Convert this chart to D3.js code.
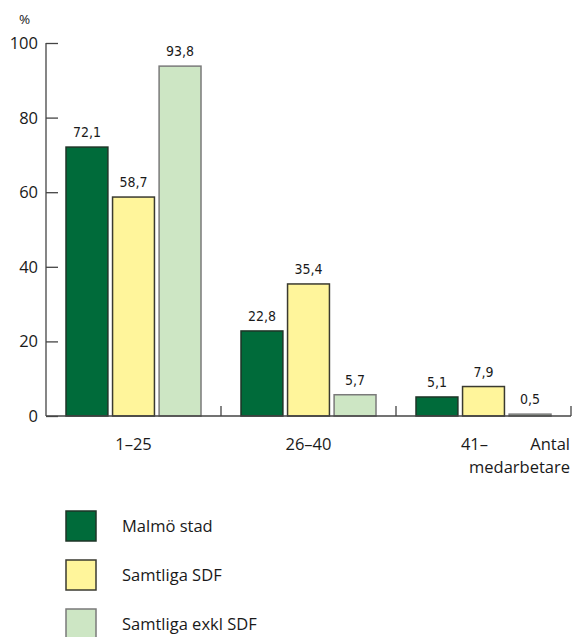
<!DOCTYPE html>
<html>
<head>
<meta charset="utf-8">
<script src="https://cdn.jsdelivr.net/npm/d3@7"></script>
<style>
  html, body { margin: 0; padding: 0; background: #fff; }
  svg { display: block; }
  .lab { font-family: "Open Sans", "Noto Sans", sans-serif; fill: #1a1a1a; }
  .val { font-family: "DejaVu Sans Condensed", "DejaVu Sans", sans-serif; font-stretch: condensed; fill: #1a1a1a; }
</style>
</head>
<body>
<svg id="chart" width="574" height="637"></svg>
<script>
// Share of workplaces by number of employees (%)
const groups = ["1–25", "26–40", "41–"];
const seriesNames = ["Malmö stad", "Samtliga SDF", "Samtliga exkl SDF"];
const malmoStad = [72.1, 22.8, 5.1];
const samtligaSDF = [58.7, 35.4, 7.9];
const samtligaExklSDF = [93.8, 5.7, 0.5];
const yTicks = [0, 20, 40, 60, 80, 100];

const seriesValues = [malmoStad, samtligaSDF, samtligaExklSDF];
const fills = ["#006b3a", "#fff59b", "#cde6c4"];
const strokes = ["#1e3527", "#3a3a30", "#7a7a7a"];

const svg = d3.select("#chart");

const x0 = d3.scaleBand().domain(groups).range([46, 571]).paddingInner(0).paddingOuter(0);
const x1 = d3.scaleBand().domain(seriesNames).range([20, 155]).paddingInner(0.1).paddingOuter(0);
const y = d3.scaleLinear().domain([0, 100]).range([416, 43]);

const fmt = v => String(v.toFixed(1)).replace(".", ",");

// y axis: line with inward ticks
const yAxis = svg.append("g").attr("transform", "translate(46,0)")
  .call(d3.axisRight(y).tickValues(yTicks).tickSize(12).tickFormat(""));
yAxis.select(".domain").attr("d", `M0,${y(100)}V${y(0)}`).attr("stroke", "#444").attr("stroke-width", 1.3);
yAxis.selectAll(".tick line").attr("stroke", "#444").attr("stroke-width", 1.3);

svg.append("g").selectAll("text").data(yTicks).join("text")
  .attr("class", "lab")
  .attr("x", 38).attr("y", d => y(d)).attr("dy", "0.36em")
  .attr("text-anchor", "end").attr("font-size", 16.5)
  .text(d => d);

svg.append("text").attr("class", "lab").attr("x", 19).attr("y", 24)
  .attr("font-size", 13.5).text("%");

// bars
const g = svg.append("g");
groups.forEach((grp, gi) => {
  seriesNames.forEach((s, si) => {
    const v = seriesValues[si][gi];
    const bx = x0(grp) + x1(s);
    g.append("rect")
      .attr("x", bx).attr("y", y(v))
      .attr("width", x1.bandwidth()).attr("height", y(0) - y(v))
      .attr("fill", fills[si]).attr("stroke", strokes[si]).attr("stroke-width", 1.5);
    g.append("text").attr("class", "val")
      .attr("x", bx + x1.bandwidth() / 2).attr("y", y(v) - 10)
      .attr("text-anchor", "middle").attr("font-size", 14)
      .text(fmt(v));
  });
});

// x baseline and group separators
svg.append("line").attr("x1", 46).attr("x2", 571).attr("y1", y(0)).attr("y2", y(0))
  .attr("stroke", "#444").attr("stroke-width", 1.3);
svg.append("g").selectAll("line").data(groups).join("line")
  .attr("x1", d => x0(d) + x0.bandwidth()).attr("x2", d => x0(d) + x0.bandwidth())
  .attr("y1", y(0) - 10).attr("y2", y(0))
  .attr("stroke", "#444").attr("stroke-width", 1.3);

// category labels
svg.append("g").selectAll("text").data(groups).join("text")
  .attr("class", "lab")
  .attr("x", (d, i) => x0(d) + x0.bandwidth() / 2 + (i === 2 ? -9 : 0))
  .attr("y", 450).attr("text-anchor", "middle").attr("font-size", 16.5)
  .text(d => d);

svg.append("text").attr("class", "lab").attr("x", 570).attr("y", 450)
  .attr("text-anchor", "end").attr("font-size", 16.5).text("Antal");
svg.append("text").attr("class", "lab").attr("x", 570).attr("y", 473)
  .attr("text-anchor", "end").attr("font-size", 16.5).text("medarbetare");

// legend
const leg = svg.append("g").selectAll("g").data(seriesNames).join("g")
  .attr("transform", (d, i) => `translate(66,${511 + i * 49})`);
leg.append("rect").attr("width", 30).attr("height", 30)
  .attr("fill", (d, i) => fills[i]).attr("stroke", (d, i) => strokes[i]).attr("stroke-width", 1.5);
leg.append("text").attr("class", "lab").attr("x", 56).attr("y", 15).attr("dy", "0.36em")
  .attr("font-size", 16.5).text(d => d);
</script>
</body>
</html>
